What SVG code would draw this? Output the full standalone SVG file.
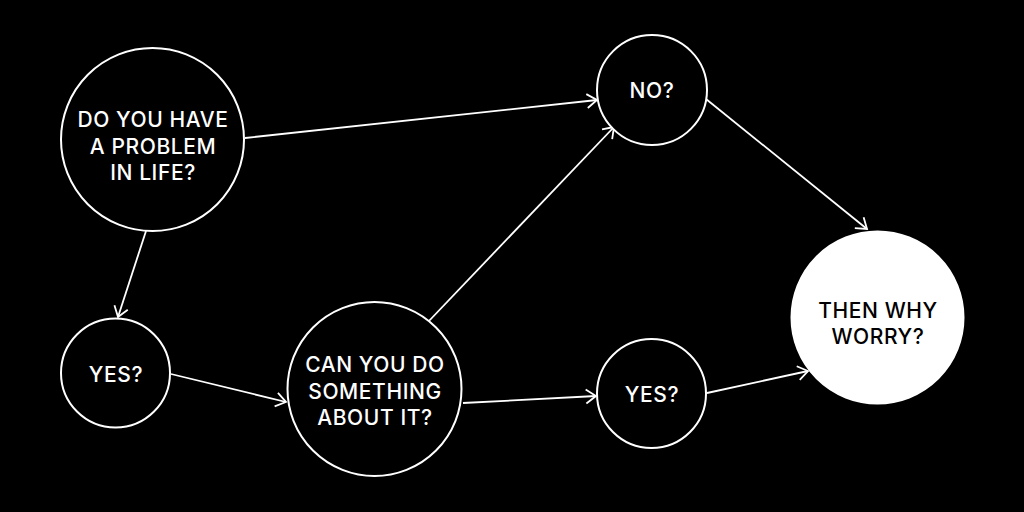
<svg xmlns="http://www.w3.org/2000/svg" width="1024" height="512" viewBox="0 0 1024 512">
<style>
.n{fill:#000;stroke:#fff;stroke-width:2}
.f{fill:#fff;stroke:#fff;stroke-width:2}
.t{font-family:Inter,"Noto Sans",sans-serif;font-weight:500;font-size:21px;letter-spacing:0.6px;text-anchor:middle;fill:#fff}
.tb{fill:#000}
.c{stroke:#fff;stroke-width:1.8;fill:none;marker-end:url(#a)}
</style>
<defs>
<marker id="a" markerUnits="userSpaceOnUse" markerWidth="14" markerHeight="16" refX="12" refY="8" orient="auto" viewBox="0 0 14 16">
<path d="M2,1 L12,8 L2,15" fill="none" stroke="#fff" stroke-width="1.8"/>
</marker>
</defs>
<rect width="1024" height="512" fill="#000"/>
<g id="connectors">
<line class="c" x1="245" y1="138" x2="597" y2="100"/>
<line class="c" x1="146" y1="231" x2="118" y2="317"/>
<line class="c" x1="171" y1="374" x2="286" y2="402"/>
<line class="c" x1="428" y1="322" x2="614" y2="127"/>
<line class="c" x1="463" y1="403" x2="596" y2="396"/>
<line class="c" x1="706" y1="99" x2="867" y2="229"/>
<line class="c" x1="707" y1="393" x2="808" y2="371"/>
</g>
<g id="problem">
<circle class="n" cx="152.5" cy="139.5" r="91.5"/>
<text class="t" x="153" y="127">DO YOU HAVE</text>
<text class="t" x="153" y="153.5">A PROBLEM</text>
<text class="t" x="153" y="180">IN LIFE?</text>
</g>
<g id="no">
<circle class="n" cx="652" cy="90" r="55"/>
<text class="t" x="652" y="98">NO?</text>
</g>
<g id="yes1">
<circle class="n" cx="115.5" cy="373" r="54.5"/>
<text class="t" x="116" y="382">YES?</text>
</g>
<g id="can">
<circle class="n" cx="374.5" cy="389" r="87"/>
<text class="t" x="375" y="372">CAN YOU DO</text>
<text class="t" x="375" y="398.5">SOMETHING</text>
<text class="t" x="375" y="425">ABOUT IT?</text>
</g>
<g id="yes2">
<circle class="n" cx="651.5" cy="393.5" r="54.5"/>
<text class="t" x="652" y="402">YES?</text>
</g>
<g id="worry">
<circle class="f" cx="877.5" cy="317.5" r="86"/>
<text class="t tb" x="878" y="318">THEN WHY</text>
<text class="t tb" x="878" y="344">WORRY?</text>
</g>
</svg>
